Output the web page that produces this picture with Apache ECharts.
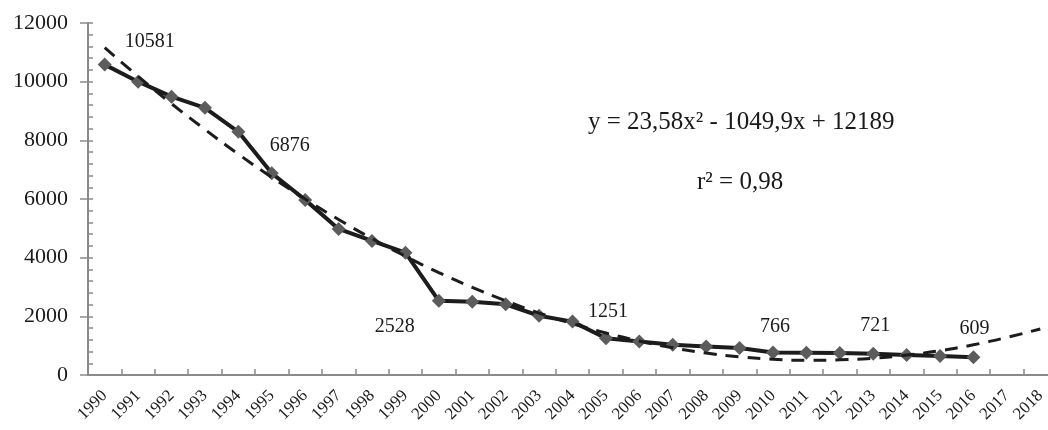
<!DOCTYPE html>
<html>
<head>
<meta charset="utf-8">
<script src="https://cdn.jsdelivr.net/npm/echarts@6/dist/echarts.min.js"></script>
<style>
html,body{margin:0;padding:0;background:#fff;overflow:hidden;}
#chart{width:1062px;height:430px;}
</style>
</head>
<body>
<div id="chart"></div>
<script>
var years = ['1990','1991','1992','1993','1994','1995','1996','1997','1998','1999','2000','2001','2002','2003','2004','2005','2006','2007','2008','2009','2010','2011','2012','2013','2014','2015','2016','2017','2018'];
var values = [10581,10000,9490,9110,8290,6876,5970,4980,4570,4170,2528,2500,2410,2020,1820,1251,1140,1030,970,920,766,760,750,721,680,650,609,null,null];
var trendValues = [11160,10180,9250,8370,7530,6740,6000,5300,4650,4050,3490,2990,2530,2110,1750,1430,1160,930,750,620,540,500,520,570,680,830,1030,1280,1570];
var labelledYears = ['1990','1995','2000','2005','2010','2013','2016'];
var yTicks = [0,2000,4000,6000,8000,10000,12000];
var equationText = 'y = 23,58x² - 1049,9x + 12189';
var r2Text = 'r² = 0,98';

var labelOffsets = {
  '1990':[45,-23], '1995':[18,-28], '2000':[-44,26], '2005':[2,-27],
  '2010':[2,-26], '2013':[2,-28], '2016':[1,-28]
};
var serif = '"Liberation Serif","DejaVu Serif",serif';
var mainData = values.map(function(v,i){
  var y = years[i];
  var item = {value:v};
  if (labelledYears.indexOf(y) >= 0) {
    item.label = {show:true, position:'inside', offset:labelOffsets[y], formatter:'{c}',
      fontFamily:serif, fontSize:20, color:'#1a1a1a'};
  }
  return item;
});
var axisGray = '#8a8a8a';
var yMin = yTicks[0], yMax = yTicks[yTicks.length-1];

var chart = echarts.init(document.getElementById('chart'));
chart.setOption({
  animation:false,
  backgroundColor:'#fff',
  grid:{left:88, top:23, width:969, height:352, containLabel:false},
  xAxis:{
    type:'category', data:years, boundaryGap:true,
    axisLine:{lineStyle:{color:axisGray, width:2}},
    axisTick:{show:true, inside:true, length:6, lineStyle:{color:axisGray, width:1.5}},
    axisLabel:{rotate:45, interval:0, margin:18, fontFamily:serif, fontSize:17, color:'#1a1a1a'}
  },
  yAxis:[{
    type:'value', min:yMin, max:yMax, interval:2000, position:'left',
    splitLine:{show:false},
    axisLine:{show:true, lineStyle:{color:axisGray, width:2}},
    axisTick:{show:true, inside:false, length:8, lineStyle:{color:axisGray, width:1.5}},
    axisLabel:{margin:20, fontFamily:serif, fontSize:22, color:'#1a1a1a',
      formatter:function(v){return String(v);}}
  },{
    type:'value', min:yMin, max:yMax, interval:400, position:'left', offset:0,
    splitLine:{show:false},
    axisLine:{show:false},
    axisLabel:{show:false},
    axisTick:{show:true, inside:true, length:5, lineStyle:{color:axisGray, width:1.5}}
  }],
  graphic:[
    {type:'text', left:588, top:110, style:{text:equationText, font:'25px '+serif, fill:'#1a1a1a'}},
    {type:'text', left:697, top:170, style:{text:r2Text, font:'25px '+serif, fill:'#1a1a1a'}}
  ],
  series:[
    {type:'line', data:mainData, z:2, symbol:'diamond', symbolSize:14,
      lineStyle:{color:'#1c1c1c', width:4},
      itemStyle:{color:'#5c5c5c', borderWidth:0},
      connectNulls:false},
    {type:'line', data:trendValues, z:3, smooth:true, symbol:'none',
      lineStyle:{color:'#1c1c1c', width:3, type:[13,9]}, silent:true}
  ]
});
</script>
</body>
</html>
